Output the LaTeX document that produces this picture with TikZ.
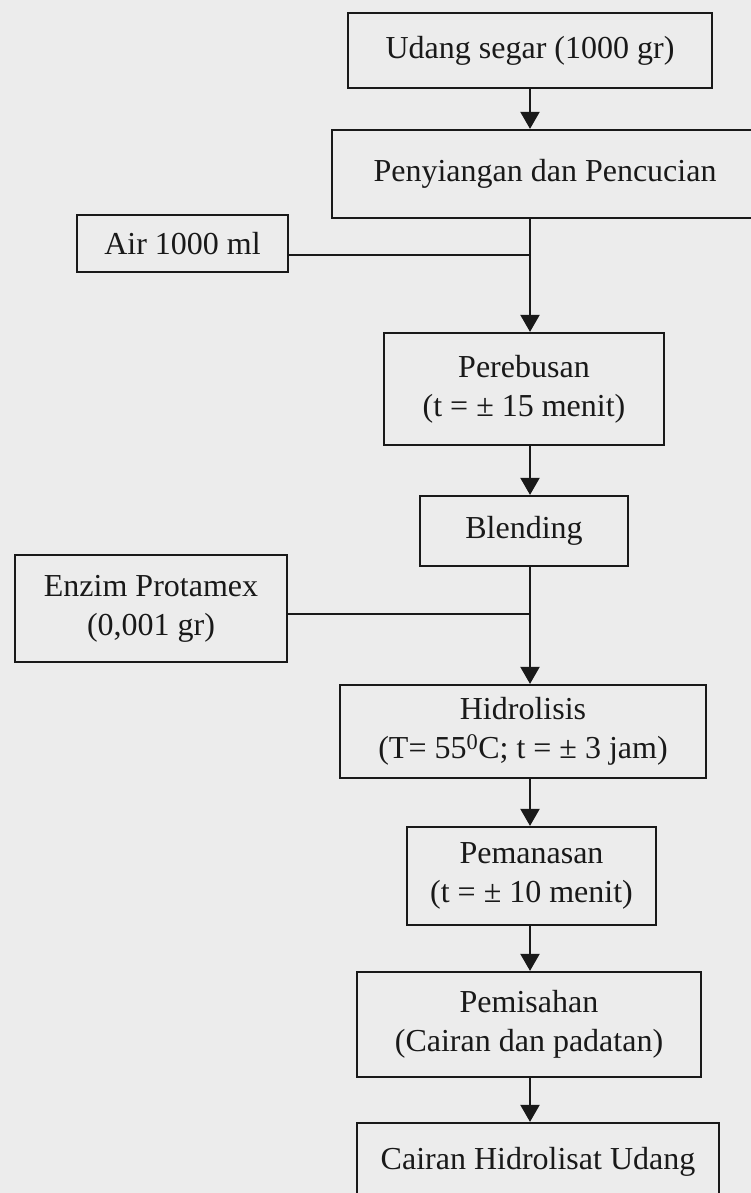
\documentclass[tikz,border=0pt]{standalone}
\usepackage{fontspec}
\setmainfont{Liberation Serif}
\usetikzlibrary{positioning, arrows.meta, calc}
\definecolor{kertas}{RGB}{236,236,236}
\definecolor{tinta}{RGB}{25,25,25}

\begin{document}
\begin{tikzpicture}[x=1pt, y=-1pt,
  kotak/.style={draw=tinta, line width=2.2pt, inner sep=0pt, align=center,
    text=tinta, font=\fontsize{32}{39}\selectfont},
  garis/.style={draw=tinta, line width=2pt},
  panah/.style={garis, -{Triangle[length=17pt, width=19pt]}}]
  \useasboundingbox (0,0) rectangle (751,1193);
  \clip (0,0) rectangle (751,1193);
  \fill[kertas] (0,0) rectangle (751,1193);
  % kotak proses
  \node[kotak, minimum width=364pt, minimum height=75pt] (udang) at (530,50.5) {Udang segar (1000 gr)};
  \node[kotak, minimum width=426pt, minimum height=88pt] (peny) at (545,174) {Penyiangan dan Pencucian};
  \node[kotak, minimum width=211pt, minimum height=57pt] (air) at (182.5,243.5) {Air 1000 ml};
  \node[kotak, minimum width=280pt, minimum height=112pt] (pereb) at (524,389) {Perebusan\\(t = ± 15 menit)};
  \node[kotak, minimum width=208pt, minimum height=70pt] (blend) at (524,531) {Blending};
  \node[kotak, minimum width=272pt, minimum height=107pt] (enzim) at (151,608.5) {Enzim Protamex\\(0,001 gr)};
  \node[kotak, minimum width=366pt, minimum height=93pt] (hidro) at (523,731.5) {Hidrolisis\\(T= 55\textsuperscript{0}C; t = ± 3 jam)};
  \node[kotak, minimum width=249pt, minimum height=98pt] (pemanas) at (531.5,876) {Pemanasan\\(t = ± 10 menit)};
  \node[kotak, minimum width=344pt, minimum height=105pt] (pemisah) at (529,1024.5) {Pemisahan\\(Cairan dan padatan)};
  \node[kotak, minimum width=362pt, minimum height=77pt] (cairan) at (538,1161.5) {Cairan Hidrolisat Udang};
  % titik temu
  \coordinate (j1) at (530,255);
  \coordinate (j2) at (530,614);
  % alur
  \draw[panah] (udang.south) -- (udang.south |- peny.north);
  \draw[garis] (peny.south -| j1) -- (j1);
  \draw[garis] (air.east |- j1) -- (j1);
  \draw[panah] (j1) -- (j1 |- pereb.north);
  \draw[panah] (pereb.south -| j1) -- (j1 |- blend.north);
  \draw[garis] (blend.south -| j2) -- (j2);
  \draw[garis] (enzim.east |- j2) -- (j2);
  \draw[panah] (j2) -- (j2 |- hidro.north);
  \draw[panah] (hidro.south -| j2) -- (j2 |- pemanas.north);
  \draw[panah] (pemanas.south -| j2) -- (j2 |- pemisah.north);
  \draw[panah] (pemisah.south -| j2) -- (j2 |- cairan.north);
\end{tikzpicture}
\end{document}
